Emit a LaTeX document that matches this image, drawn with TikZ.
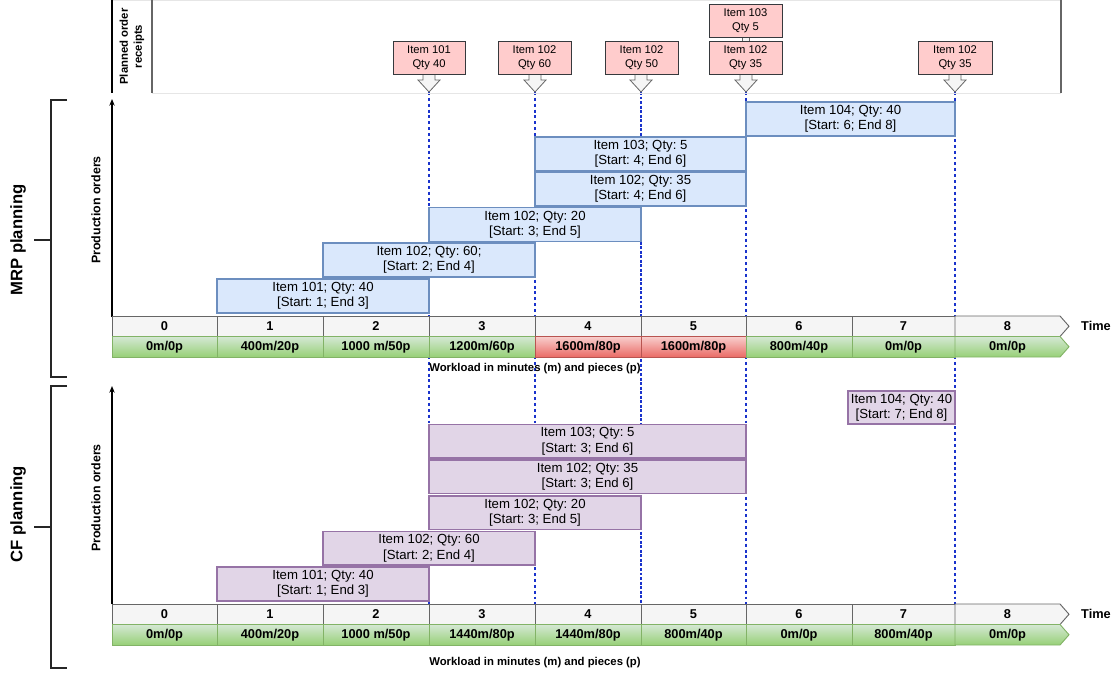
\documentclass[tikz,border=0pt]{standalone}
\usepackage{fontspec}
\setmainfont{Liberation Sans}
\usetikzlibrary{arrows.meta}
\frenchspacing
\definecolor{mrpfill}{HTML}{DAE8FC}
\definecolor{mrpline}{HTML}{6C8EBF}
\definecolor{cffill}{HTML}{E1D5E7}
\definecolor{cfline}{HTML}{9673A6}
\definecolor{recfill}{HTML}{FFCCCC}
\definecolor{recline}{HTML}{36393D}
\definecolor{greyfill}{HTML}{F5F5F5}
\definecolor{greyline}{HTML}{666666}
\definecolor{gtop}{HTML}{D5E8D4}
\definecolor{gbot}{HTML}{97D077}
\definecolor{gline}{HTML}{82B366}
\definecolor{rtop}{HTML}{F8CECC}
\definecolor{rbot}{HTML}{EA6B66}
\definecolor{rline}{HTML}{B85450}
\definecolor{dblue}{HTML}{1A33CC}
\definecolor{panelline}{HTML}{E6E6E6}
\begin{document}
\begin{tikzpicture}[x=0.75pt,y=-0.75pt,
 cellat/.style n args={4}{minimum width={(#3-(#1))*0.75pt},minimum height={(#4-(#2))*0.75pt},at={({(#1+#3)/2},{(#2+#4)/2})}},
 itemfont/.style={font=\frenchspacing\fontsize{9.9}{11.6}\selectfont},
 mrpbox/.style={draw=mrpline,fill=mrpfill,line width=0.9pt,inner sep=0pt,align=center,itemfont},
 cfbox/.style={draw=cfline,fill=cffill,line width=0.9pt,inner sep=0pt,align=center,itemfont},
 recbox/.style={draw=recline,fill=recfill,line width=0.6pt,inner sep=0pt,align=center,font=\fontsize{8.4}{10.8}\selectfont},
 blockarrow/.style={draw=greyline,fill=greyfill,line width=0.6pt},
 cellfont/.style={font=\bfseries\fontsize{9.6}{10}\selectfont},
 tcell/.style={draw=greyline,fill=greyfill,line width=0.7pt,inner sep=0pt,cellfont},
 gcell/.style={draw=gline,top color=gtop,bottom color=gbot,line width=0.7pt,inner sep=0pt,cellfont},
 rcell/.style={draw=rline,top color=rtop,bottom color=rbot,line width=0.7pt,inner sep=0pt,cellfont},
 celltext/.style={inner sep=0pt,cellfont},
 dline/.style={draw=dblue,line width=0.8pt,dash pattern=on 2.2pt off 2.2pt},
 dlinedense/.style={draw=dblue,line width=1pt,dash pattern=on 2.2pt off 1.2pt},
 axis/.style={draw=black,line width=0.8pt,-{Stealth[length=5pt,width=4pt]}},
 bracket/.style={draw=black!85,line width=1pt},
 caption/.style={font=\bfseries\fontsize{8.5}{10}\selectfont,inner sep=0pt},
 sidelabel/.style={font=\bfseries\fontsize{12.5}{14}\selectfont,rotate=90,inner sep=0pt},
 yaxislabel/.style={font=\bfseries\fontsize{9.3}{11}\selectfont,rotate=90,inner sep=0pt},
 panellabel/.style={font=\bfseries\fontsize{8.5}{10.5}\selectfont,rotate=90,inner sep=0pt,align=center},
]
\useasboundingbox (0,0) rectangle (1116,678);

% ---------- dashed guide lines ----------
\coordinate (tipA) at (429,92);  \coordinate (botA) at (429,604);
\coordinate (tipB) at (535,92);  \coordinate (botB) at (535,604);
\coordinate (tipC) at (641,92);  \coordinate (botC) at (641,604);
\coordinate (tipD) at (746,92);  \coordinate (botD) at (746,604);
\coordinate (tipE) at (955,92);  \coordinate (botE) at (955,604);
\draw[dline] (tipA) -- (botA);
\draw[dline] (tipB) -- (botB);
\draw[dlinedense] (tipC) -- (botC);
\draw[dline] (tipD) -- (botD);
\draw[dline] (tipE) -- (botE);

% ---------- planned order receipts panel ----------
\draw[panelline,line width=0.6pt] (112,0.5) -- (1061,0.5);
\draw[panelline,line width=0.6pt] (152,93) -- (1061,93);
\draw[black,line width=0.8pt] (112,0) -- (112,93);
\draw[greyline,line width=0.8pt] (152,0) -- (152,93);
\draw[greyline,line width=0.8pt] (1061,0) -- (1061,93);
\node[panellabel] (prl) at (132,46.5) {Planned order\\receipts};

% block arrows
\foreach \c in {429,535,641,746,955}
  \path[blockarrow] (\c-6,72) -- (\c-6,80) -- (\c-11,80) -- (\c,92) -- (\c+11,80) -- (\c+6,80) -- (\c+6,72) -- cycle;
\path[blockarrow] (742,35) rectangle (749,43);

\node[recbox,cellat={393}{41}{465}{74}] (r1) {Item 101\\Qty 40};
\node[recbox,cellat={498}{41}{571}{74}] (r2) {Item 102\\Qty 60};
\node[recbox,cellat={605}{41}{678}{74}] (r3) {Item 102\\Qty 50};
\node[recbox,cellat={709}{4}{782}{37}] (r4a) {Item 103\\Qty 5};
\node[recbox,cellat={709}{41}{782}{74}] (r4b) {Item 102\\Qty 35};
\node[recbox,cellat={918}{41}{992}{74}] (r5) {Item 102\\Qty 35};

% ---------- left brackets ----------
\draw[bracket] (67,100) -- (51,100) -- (51,377) -- (67,377);
\draw[bracket] (51,240) -- (34,240);
\node[sidelabel] (mrpl) at (18,240) {MRP planning};
\draw[bracket] (67,386) -- (51,386) -- (51,668) -- (67,668);
\draw[bracket] (51,527) -- (34,527);
\node[sidelabel] (cfl) at (18,514) {CF planning};

% ---------- MRP planning ----------
\coordinate (ax1b) at (112,317);
\coordinate (ax1t) at (112,99);
\draw[axis] (ax1b) -- (ax1t);
\node[yaxislabel] (po1) at (96,210) {Production orders};

\node[mrpbox,cellat={746}{102}{955}{136}] (m104) {Item 104; Qty: 40\\{[}Start: 6; End 8]};
\node[mrpbox,cellat={535}{137}{746}{171}] (m103) {Item 103; Qty: 5\\{[}Start: 4; End 6]};
\node[mrpbox,cellat={535}{172}{746}{206}] (m102c) {Item 102; Qty: 35\\{[}Start: 4; End 6]};
\node[mrpbox,cellat={429}{207.5}{641}{241.5}] (m102b) {Item 102; Qty: 20\\{[}Start: 3; End 5]};
\node[mrpbox,cellat={323}{243}{535}{277}] (m102a) {Item 102; Qty: 60;\\{[}Start: 2; End 4]};
\node[mrpbox,cellat={217}{279}{429}{313}] (m101) {Item 101; Qty: 40\\{[}Start: 1; End 3]};

% time row
\node[tcell,cellat={112}{316}{217}{336.5}] (mt0) {0};
\node[tcell,cellat={217}{316}{323}{336.5}] (mt1) {1};
\node[tcell,cellat={323}{316}{429}{336.5}] (mt2) {2};
\node[tcell,cellat={429}{316}{535}{336.5}] (mt3) {3};
\node[tcell,cellat={535}{316}{641}{336.5}] (mt4) {4};
\node[tcell,cellat={641}{316}{746}{336.5}] (mt5) {5};
\node[tcell,cellat={746}{316}{852}{336.5}] (mt6) {6};
\node[tcell,cellat={852}{316}{955}{336.5}] (mt7) {7};
\path[tcell] (955,316) -- (1060,316) -- (1069,326.25) -- (1060,336.5) -- (955,336.5) -- cycle;
\node[celltext] (mt8) at (1007.5,326.25) {8};
\node[celltext] (mtime) at (1096,326.25) {Time};

% workload row
\node[gcell,cellat={112}{336.5}{217}{357}] (mw0) {0m/0p};
\node[gcell,cellat={217}{336.5}{323}{357}] (mw1) {400m/20p};
\node[gcell,cellat={323}{336.5}{429}{357}] (mw2) {1000 m/50p};
\node[gcell,cellat={429}{336.5}{535}{357}] (mw3) {1200m/60p};
\node[rcell,cellat={535}{336.5}{641}{357}] (mw4) {1600m/80p};
\node[rcell,cellat={641}{336.5}{746}{357}] (mw5) {1600m/80p};
\node[gcell,cellat={746}{336.5}{852}{357}] (mw6) {800m/40p};
\node[gcell,cellat={852}{336.5}{955}{357}] (mw7) {0m/0p};
\path[gcell] (955,336.5) -- (1060,336.5) -- (1069,346.75) -- (1060,357) -- (955,357) -- cycle;
\node[celltext] (mw8) at (1007.5,346.75) {0m/0p};
\node[caption] (wl1) at (535,369) {Workload in minutes (m) and pieces (p)};

% ---------- CF planning ----------
\coordinate (ax2b) at (112,604);
\coordinate (ax2t) at (112,386);
\draw[axis] (ax2b) -- (ax2t);
\node[yaxislabel] (po2) at (96,498) {Production orders};

\node[cfbox,cellat={848}{391}{955}{424}] (c104) {Item 104; Qty: 40\\{[}Start: 7; End 8]};
\node[cfbox,cellat={429}{424.5}{746}{458}] (c103) {Item 103; Qty: 5\\{[}Start: 3; End 6]};
\node[cfbox,cellat={429}{460}{746}{493.5}] (c102c) {Item 102; Qty: 35\\{[}Start: 3; End 6]};
\node[cfbox,cellat={429}{496}{641}{529.5}] (c102b) {Item 102; Qty: 20\\{[}Start: 3; End 5]};
\node[cfbox,cellat={323}{531.5}{535}{565}] (c102a) {Item 102; Qty: 60\\{[}Start: 2; End 4]};
\node[cfbox,cellat={217}{567}{429}{601}] (c101) {Item 101; Qty: 40\\{[}Start: 1; End 3]};

\node[tcell,cellat={112}{604}{217}{624.5}] (ct0) {0};
\node[tcell,cellat={217}{604}{323}{624.5}] (ct1) {1};
\node[tcell,cellat={323}{604}{429}{624.5}] (ct2) {2};
\node[tcell,cellat={429}{604}{535}{624.5}] (ct3) {3};
\node[tcell,cellat={535}{604}{641}{624.5}] (ct4) {4};
\node[tcell,cellat={641}{604}{746}{624.5}] (ct5) {5};
\node[tcell,cellat={746}{604}{852}{624.5}] (ct6) {6};
\node[tcell,cellat={852}{604}{955}{624.5}] (ct7) {7};
\path[tcell] (955,604) -- (1060,604) -- (1069,614.25) -- (1060,624.5) -- (955,624.5) -- cycle;
\node[celltext] (ct8) at (1007.5,614.25) {8};
\node[celltext] (ctime) at (1096,614.25) {Time};

\node[gcell,cellat={112}{624.5}{217}{645}] (cw0) {0m/0p};
\node[gcell,cellat={217}{624.5}{323}{645}] (cw1) {400m/20p};
\node[gcell,cellat={323}{624.5}{429}{645}] (cw2) {1000 m/50p};
\node[gcell,cellat={429}{624.5}{535}{645}] (cw3) {1440m/80p};
\node[gcell,cellat={535}{624.5}{641}{645}] (cw4) {1440m/80p};
\node[gcell,cellat={641}{624.5}{746}{645}] (cw5) {800m/40p};
\node[gcell,cellat={746}{624.5}{852}{645}] (cw6) {0m/0p};
\node[gcell,cellat={852}{624.5}{955}{645}] (cw7) {800m/40p};
\path[gcell] (955,624.5) -- (1060,624.5) -- (1069,634.75) -- (1060,645) -- (955,645) -- cycle;
\node[celltext] (cw8) at (1007.5,634.75) {0m/0p};
\node[caption] (wl2) at (535,663) {Workload in minutes (m) and pieces (p)};
\end{tikzpicture}
\end{document}
